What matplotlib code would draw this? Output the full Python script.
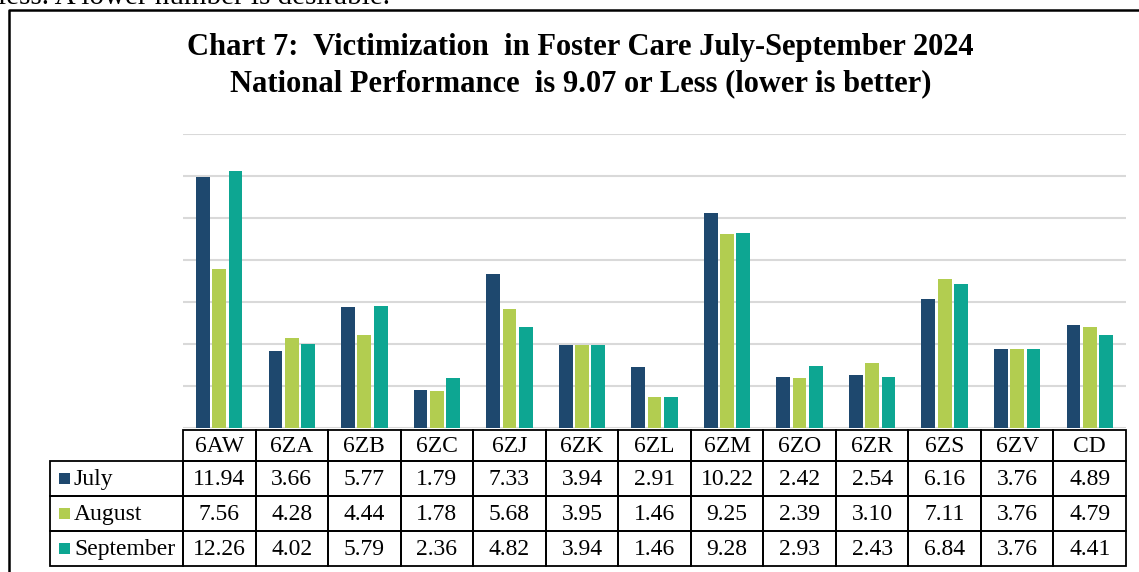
import numpy as np
import matplotlib.pyplot as plt
from matplotlib.patches import Rectangle

plt.rcParams['font.family'] = ['Liberation Serif', 'DejaVu Serif']

regions = ['6AW', '6ZA', '6ZB', '6ZC', '6ZJ', '6ZK', '6ZL', '6ZM', '6ZO', '6ZR', '6ZS', '6ZV', 'CD']
months = ['July', 'August', 'September']
july = [11.94, 3.66, 5.77, 1.79, 7.33, 3.94, 2.91, 10.22, 2.42, 2.54, 6.16, 3.76, 4.89]
august = [7.56, 4.28, 4.44, 1.78, 5.68, 3.95, 1.46, 9.25, 2.39, 3.10, 7.11, 3.76, 4.79]
september = [12.26, 4.02, 5.79, 2.36, 4.82, 3.94, 1.46, 9.28, 2.93, 2.43, 6.84, 3.76, 4.41]
colors = ['#1E486E', '#B2CD50', '#0DA692']

W, H = 1139, 572
fig = plt.figure(figsize=(W / 100, H / 100), dpi=100)

# pixel-space overlay for border, title and table
ov = fig.add_axes([0, 0, 1, 1])
ov.set_xlim(0, W)
ov.set_ylim(H, 0)
ov.axis('off')

# tail of the paragraph above the chart, cut off by the crop
ov.text(-2, 4.5, 'less. A lower number is desirable.', fontsize=21, va='baseline', ha='left')
ov.plot([9, 9, W + 5], [H + 5, 10, 10], color='black', lw=1.8, solid_capstyle='butt')

ov.text(580, 47, 'Chart 7:  Victimization  in Foster Care July-September 2024',
        fontsize=22, fontweight='bold', ha='center', va='center')
ov.text(581, 84, 'National Performance  is 9.07 or Less (lower is better)',
        fontsize=22, fontweight='bold', ha='center', va='center')

# chart area
x0, x1, y0, y1 = 183, 1126, 134, 428
ax = fig.add_axes([x0 / W, 1 - y1 / H, (x1 - x0) / W, (y1 - y0) / H])
x = np.arange(len(regions))
bw = 0.19
for i, (vals, c) in enumerate(zip([july, august, september], colors)):
    ax.bar(x + (i - 1) * 0.225, vals, bw, color=c, zorder=3)
ax.set_xlim(-0.5, len(regions) - 0.5)
ax.set_ylim(0, 14)
ax.set_yticks(np.arange(0, 15, 2))
ax.grid(axis='y', color='#D9D9D9', lw=1.5, zorder=0)
ax.set_xticks([])
ax.tick_params(left=False, labelleft=False)
for s in ax.spines.values():
    s.set_visible(False)

# data table
cw = (x1 - x0) / len(regions)
lab_l = 50
rows_y = [430, 461, 496, 531, 566]
lw = 1.3
fs = 17
for j, r in enumerate(regions):
    cx = x0 + j * cw
    ov.add_patch(Rectangle((cx, rows_y[0]), cw, rows_y[1] - rows_y[0], fill=False, lw=lw, ec='black'))
    ov.text(cx + cw / 2, (rows_y[0] + rows_y[1]) / 2 + 1, r, fontsize=fs, ha='center', va='center')
for i, (m, vals, c) in enumerate(zip(months, [july, august, september], colors)):
    ya, yb = rows_y[i + 1], rows_y[i + 2]
    ov.add_patch(Rectangle((lab_l, ya), x0 - lab_l, yb - ya, fill=False, lw=lw, ec='black'))
    ov.add_patch(Rectangle((59, (ya + yb) / 2 - 6), 11, 11, color=c, lw=0))
    ov.text(74, (ya + yb) / 2 + 1, m, fontsize=fs, ha='left', va='center')
    for j, v in enumerate(vals):
        cx = x0 + j * cw
        ov.add_patch(Rectangle((cx, ya), cw, yb - ya, fill=False, lw=lw, ec='black'))
        ov.text(cx + cw / 2, (ya + yb) / 2 + 1, '%.2f' % v, fontsize=fs, ha='center', va='center')

fig.savefig('out.png', dpi=100)
